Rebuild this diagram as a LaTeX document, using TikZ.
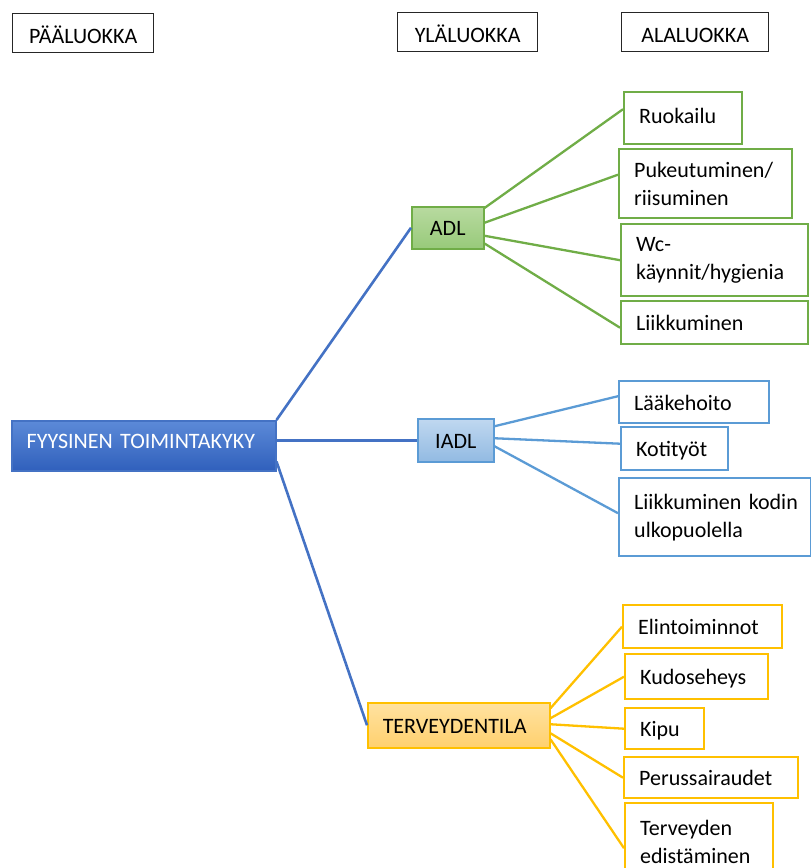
\documentclass[tikz,border=0pt]{standalone}
\usepackage{fontspec}
\setmainfont{Carlito}
\usetikzlibrary{calc}
\definecolor{mainblue}{RGB}{68,114,196}
\definecolor{mainTop}{RGB}{92,138,216}
\definecolor{mainBot}{RGB}{48,96,188}
\definecolor{grn}{RGB}{112,173,71}
\definecolor{grnTop}{RGB}{184,218,160}
\definecolor{grnBot}{RGB}{152,202,122}
\definecolor{blu}{RGB}{91,155,213}
\definecolor{bluTop}{RGB}{192,216,240}
\definecolor{bluBot}{RGB}{146,186,226}
\definecolor{yel}{RGB}{255,192,0}
\definecolor{yelTop}{RGB}{255,226,160}
\definecolor{yelBot}{RGB}{255,208,110}
\begin{document}
\begin{tikzpicture}[x=1pt,y=-1pt,
  every node/.style={font=\fontsize{22}{28}\selectfont, anchor=north west, inner ysep=0pt},
  oneline/.style={text height=17pt, text depth=1pt},
  hdr/.style={draw=black!85, line width=1.3pt, align=center, inner xsep=0pt, text height=21pt, text depth=0pt},
  leaf/.style={fill=white, line width=2.4pt, inner xsep=15pt, align=left},
  mid/.style={line width=1.5pt, inner xsep=0pt, align=center, oneline},
  mainc/.style={line width=2.6pt, draw=mainblue},
  gcon/.style={line width=2.3pt, draw=grn},
  bcon/.style={line width=2.3pt, draw=blu},
  ycon/.style={line width=2.3pt, draw=yel}
]
\useasboundingbox (0,0) rectangle (811,868);
\clip (0,0) rectangle (811,868);

% headers
\node[hdr, minimum width=141pt, minimum height=39pt] (pl) at (12,13) {PÄÄLUOKKA};
\node[hdr, minimum width=140pt, minimum height=39pt] (yl) at (397,12) {YLÄLUOKKA};
\node[hdr, minimum width=147pt, minimum height=39pt] (al) at (621,12) {ALALUOKKA};

% main
\node[draw=mainblue, line width=1.5pt, top color=mainTop, bottom color=mainBot, text=white,
      text height=13pt, text depth=7pt,
      minimum height=50pt, text width=234pt, inner xsep=15pt, align=left] (main) at (11,420) {FYYSINEN TOIMINTAKYKY};

% mid level
\node[mid, draw=grn, top color=grnTop, bottom color=grnBot, minimum width=72pt, minimum height=42pt] (adl) at (411,206) {ADL};
\node[mid, draw=blu, top color=bluTop, bottom color=bluBot, minimum width=76pt, minimum height=43pt] (iadl) at (417,418) {IADL};
\node[line width=1.5pt, draw=yel, top color=yelTop, bottom color=yelBot, oneline, minimum height=45pt, text width=152pt, inner xsep=15pt, align=left] (terv) at (367,702) {TERVEYDENTILA};

% ADL leaves
\node[leaf, draw=grn, text width=88pt, minimum height=52pt, text height=14pt, text depth=4pt] (ruok) at (623,91) {Ruokailu};
\node[leaf, draw=grn, text width=143pt, minimum height=69pt] (puk) at (618,148) {Pukeutuminen/\\riisuminen};
\node[leaf, draw=grn, text width=157pt, minimum height=72pt] (wc) at (620,223) {Wc-\\käynnit/hygienia};
\node[leaf, oneline, draw=grn, text width=157pt, minimum height=43pt] (liik) at (620,300) {Liikkuminen};

% IADL leaves
\node[leaf, oneline, draw=blu, text width=120pt, minimum height=42pt] (laak) at (618,380) {Lääkehoito};
\node[leaf, oneline, draw=blu, text width=77pt, minimum height=43pt] (koti) at (620,426) {Kotityöt};
\node[leaf, draw=blu, text width=162pt, minimum height=78pt] (liikk) at (618,477) {\mbox{Liikkuminen kodin}\\ulkopuolella};

% Terveydentila leaves
\node[leaf, oneline, draw=yel, text width=129pt, minimum height=43pt] (elin) at (622,604) {Elintoiminnot};
\node[leaf, oneline, draw=yel, text width=113pt, minimum height=45pt] (kudo) at (624,653) {Kudoseheys};
\node[leaf, oneline, draw=yel, text width=49pt, minimum height=41pt] (kipu) at (624,707) {Kipu};
\node[leaf, oneline, draw=yel, text width=144pt, minimum height=41pt] (peru) at (623,756) {Perussairaudet};
\node[leaf, draw=yel, text width=118pt, minimum height=78pt] (tedi) at (624,802) {Terveyden\\edistäminen};

% main connectors
\draw[mainc] (main.north east) -- (adl.west);
\draw[mainc] (main.east |- iadl.west) -- (iadl.west);
\draw[mainc] ([yshift=10pt]main.south east) -- (terv.west);

% ADL connectors
\draw[gcon] ([yshift=-2pt]adl.north east) -- ([yshift=9pt]ruok.west);
\draw[gcon] ([yshift=5pt]adl.east) -- ([yshift=9pt]puk.west);
\draw[gcon] ([yshift=-8pt]adl.east) -- (wc.west);
\draw[gcon] ([yshift=6pt]adl.south east) -- ([yshift=-5pt]liik.west);

% IADL connectors
\draw[bcon] ([yshift=14pt]iadl.east) -- ([yshift=6pt]laak.west);
\draw[bcon] ([yshift=2pt]iadl.east) -- ([yshift=5pt]koti.west);
\draw[bcon] ([yshift=-6pt]iadl.east) -- ([yshift=4pt]liikk.west);

% Terveydentila connectors
\draw[ycon] ([yshift=17pt]terv.east) -- (elin.west);
\draw[ycon] ([yshift=7pt]terv.east) -- (kudo.west);
\draw[ycon] ([yshift=1pt]terv.east) -- (kipu.west);
\draw[ycon] ([yshift=-8pt]terv.east) -- (peru.west);
\draw[ycon] ([yshift=-14pt]terv.east) -- ([yshift=-6pt]tedi.west);
\end{tikzpicture}
\end{document}
